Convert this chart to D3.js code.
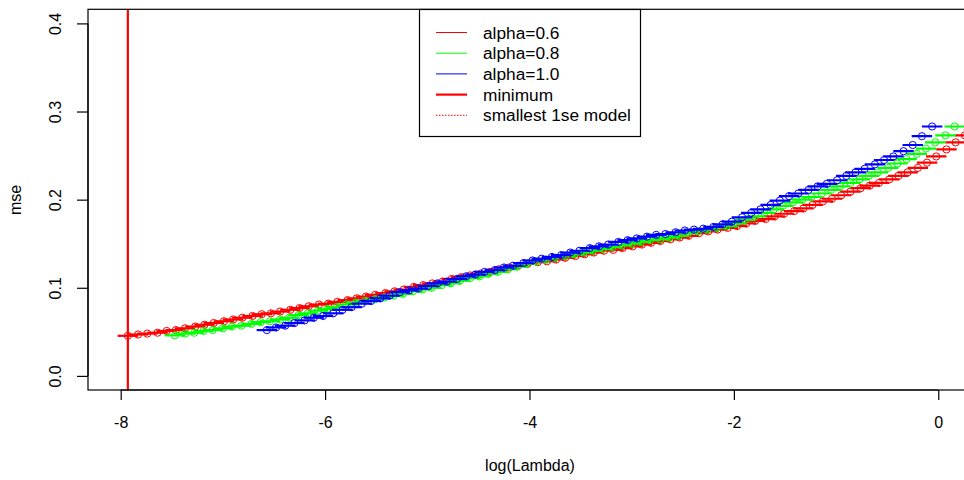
<!DOCTYPE html>
<html>
<head>
<meta charset="utf-8">
<script src="https://cdn.jsdelivr.net/npm/d3@7"></script>
<style>
  html, body { margin: 0; padding: 0; background: #ffffff; }
  svg { display: block; }
  text { font-family: "Liberation Sans", Arial, Helvetica, sans-serif; }
</style>
</head>
<body>
<svg id="chart" width="964" height="480"></svg>
<script>
// ---------------- data ----------------
const logLambdaA06 = [0.45,0.35,0.26,0.17,0.08,-0.02,-0.11,-0.20,-0.30,-0.39,-0.48,-0.58,-0.67,-0.76,-0.86,-0.95,-1.04,-1.13,-1.23,-1.32,-1.41,-1.51,-1.60,-1.69,-1.79,-1.88,-1.97,-2.06,-2.16,-2.25,-2.34,-2.44,-2.53,-2.62,-2.72,-2.81,-2.90,-2.99,-3.09,-3.18,-3.27,-3.37,-3.46,-3.55,-3.65,-3.74,-3.83,-3.92,-4.02,-4.11,-4.20,-4.30,-4.39,-4.48,-4.58,-4.67,-4.76,-4.85,-4.95,-5.04,-5.13,-5.23,-5.32,-5.41,-5.51,-5.60,-5.69,-5.78,-5.88,-5.97,-6.06,-6.16,-6.25,-6.34,-6.44,-6.53,-6.62,-6.71,-6.81,-6.90,-6.99,-7.09,-7.18,-7.27,-7.37,-7.46,-7.55,-7.64,-7.74,-7.83,-7.93];
const mseA06 = [0.283,0.279,0.273,0.265,0.257,0.249,0.242,0.236,0.231,0.227,0.223,0.219,0.216,0.213,0.209,0.205,0.201,0.198,0.194,0.190,0.187,0.184,0.181,0.178,0.176,0.173,0.170,0.168,0.166,0.164,0.162,0.159,0.157,0.155,0.153,0.151,0.149,0.147,0.145,0.143,0.142,0.140,0.138,0.136,0.134,0.132,0.130,0.129,0.127,0.125,0.123,0.121,0.118,0.116,0.114,0.112,0.110,0.107,0.105,0.103,0.101,0.098,0.096,0.094,0.092,0.090,0.088,0.086,0.084,0.082,0.081,0.079,0.077,0.075,0.073,0.071,0.070,0.068,0.066,0.064,0.062,0.060,0.058,0.056,0.054,0.052,0.051,0.049,0.048,0.047,0.0455];

const logLambdaA08 = [0.16,0.07,-0.03,-0.12,-0.21,-0.31,-0.40,-0.49,-0.59,-0.68,-0.77,-0.86,-0.96,-1.05,-1.14,-1.24,-1.33,-1.42,-1.52,-1.61,-1.70,-1.79,-1.89,-1.98,-2.07,-2.17,-2.26,-2.35,-2.45,-2.54,-2.63,-2.72,-2.82,-2.91,-3.00,-3.10,-3.19,-3.28,-3.38,-3.47,-3.56,-3.65,-3.75,-3.84,-3.93,-4.03,-4.12,-4.21,-4.31,-4.40,-4.49,-4.58,-4.68,-4.77,-4.86,-4.96,-5.05,-5.14,-5.24,-5.33,-5.42,-5.51,-5.61,-5.70,-5.79,-5.89,-5.98,-6.07,-6.17,-6.26,-6.35,-6.44,-6.54,-6.63,-6.72,-6.82,-6.91,-7.00,-7.10,-7.19,-7.28,-7.37,-7.47];
const mseA08 = [0.283,0.273,0.265,0.258,0.252,0.246,0.241,0.236,0.231,0.227,0.223,0.219,0.215,0.211,0.207,0.203,0.200,0.197,0.193,0.189,0.185,0.181,0.177,0.173,0.170,0.168,0.166,0.164,0.162,0.159,0.157,0.155,0.154,0.152,0.150,0.148,0.146,0.144,0.142,0.140,0.138,0.136,0.134,0.132,0.130,0.127,0.124,0.121,0.118,0.116,0.113,0.111,0.108,0.105,0.103,0.100,0.098,0.096,0.093,0.091,0.089,0.087,0.085,0.083,0.081,0.078,0.076,0.074,0.071,0.069,0.066,0.064,0.062,0.061,0.059,0.057,0.056,0.054,0.052,0.051,0.049,0.048,0.046];

const logLambdaA10 = [-0.06,-0.16,-0.25,-0.34,-0.44,-0.53,-0.62,-0.72,-0.81,-0.90,-0.99,-1.09,-1.18,-1.27,-1.37,-1.46,-1.55,-1.64,-1.74,-1.83,-1.92,-2.02,-2.11,-2.20,-2.30,-2.39,-2.48,-2.57,-2.67,-2.76,-2.85,-2.95,-3.04,-3.13,-3.23,-3.32,-3.41,-3.51,-3.60,-3.69,-3.78,-3.88,-3.97,-4.06,-4.16,-4.25,-4.34,-4.44,-4.53,-4.62,-4.71,-4.81,-4.90,-4.99,-5.09,-5.18,-5.27,-5.37,-5.46,-5.55,-5.64,-5.74,-5.83,-5.92,-6.02,-6.11,-6.20,-6.30,-6.39,-6.48,-6.57];
const mseA10 = [0.283,0.272,0.262,0.255,0.249,0.245,0.240,0.235,0.231,0.227,0.222,0.218,0.215,0.211,0.207,0.204,0.199,0.194,0.189,0.185,0.180,0.175,0.172,0.169,0.167,0.166,0.165,0.163,0.161,0.160,0.158,0.156,0.154,0.152,0.149,0.147,0.145,0.142,0.140,0.137,0.135,0.133,0.131,0.128,0.125,0.123,0.120,0.118,0.115,0.113,0.110,0.107,0.105,0.102,0.099,0.097,0.095,0.091,0.088,0.085,0.082,0.078,0.075,0.071,0.068,0.066,0.063,0.060,0.057,0.055,0.052];

const minLogLambda = -7.93;
const xTicks = [-8, -6, -4, -2, 0];
const xTickLabels = ["-8", "-6", "-4", "-2", "0"];
const yTicks = [0.0, 0.1, 0.2, 0.3, 0.4];
const yTickLabels = ["0.0", "0.1", "0.2", "0.3", "0.4"];
const seriesNames = ["alpha=0.6", "alpha=0.8", "alpha=1.0"];
const seriesColors = ["#ff0000", "#00ff00", "#0000ff"];
const legendLabels = ["alpha=0.6", "alpha=0.8", "alpha=1.0", "minimum", "smallest 1se model"];

// ---------------- layout ----------------
const svg = d3.select("#chart");
const L = 88, R = 972, T = 9.3, B = 390;
const x = d3.scaleLinear().domain([-8.32, 0.33]).range([L, R]);
const y = d3.scaleLinear().domain([-0.016, 0.416]).range([B, T]);
const barHalf = 0.1; // half width of error bar caps in log(Lambda) units

svg.append("defs").append("clipPath").attr("id", "plotclip")
  .append("rect").attr("x", L).attr("y", T).attr("width", R - L).attr("height", B - T);

const series = [
  { name: seriesNames[0], color: seriesColors[0], xs: logLambdaA06, ys: mseA06 },
  { name: seriesNames[1], color: seriesColors[1], xs: logLambdaA08, ys: mseA08 },
  { name: seriesNames[2], color: seriesColors[2], xs: logLambdaA10, ys: mseA10 }
];

const plot = svg.append("g").attr("clip-path", "url(#plotclip)");

series.forEach(s => {
  const pts = s.xs.map((v, i) => ({ lx: v, m: s.ys[i] }));
  const g = plot.append("g");
  g.selectAll("line.cap").data(pts).enter().append("line")
    .attr("class", "cap")
    .attr("x1", d => x(d.lx - barHalf)).attr("x2", d => x(d.lx + barHalf))
    .attr("y1", d => y(d.m)).attr("y2", d => y(d.m))
    .attr("stroke", s.color).attr("stroke-width", 2.2);
  g.selectAll("circle").data(pts).enter().append("circle")
    .attr("cx", d => x(d.lx)).attr("cy", d => y(d.m)).attr("r", 3.6)
    .attr("fill", "none").attr("stroke", s.color).attr("stroke-width", 1);
});

// minimum line
plot.append("line")
  .attr("x1", x(minLogLambda)).attr("x2", x(minLogLambda))
  .attr("y1", T).attr("y2", B)
  .attr("stroke", "#ff0000").attr("stroke-width", 2.2);

// box
svg.append("rect").attr("x", L).attr("y", T).attr("width", R - L).attr("height", B - T)
  .attr("fill", "none").attr("stroke", "#000").attr("stroke-width", 1.2);

// axes
const fontSize = 16;
const xAxis = svg.append("g").attr("transform", `translate(0,${B})`)
  .call(d3.axisBottom(x).tickValues(xTicks).tickFormat((d, i) => xTickLabels[i]).tickSize(10).tickPadding(17));
xAxis.select(".domain").attr("d", `M${x(xTicks[0])},0H${x(xTicks[xTicks.length - 1])}`).attr("stroke-width", 1.2);
xAxis.selectAll("line").attr("stroke-width", 1.2);
xAxis.selectAll("text").attr("font-size", fontSize).attr("fill", "#000")
  .style("font-family", '"Liberation Sans", Arial, sans-serif');

const yAxis = svg.append("g").attr("transform", `translate(${L},0)`)
  .call(d3.axisLeft(y).tickValues(yTicks).tickFormat((d, i) => yTickLabels[i]).tickSize(11));
yAxis.select(".domain").attr("d", `M0,${y(yTicks[0])}V${y(yTicks[yTicks.length - 1])}`).attr("stroke-width", 1.2);
yAxis.selectAll("line").attr("stroke-width", 1.2);
yAxis.selectAll("text")
  .attr("transform", "rotate(-90)")
  .attr("x", 0).attr("y", -33).attr("dy", "0.35em")
  .attr("text-anchor", "middle")
  .attr("font-size", fontSize).attr("fill", "#000")
  .style("font-family", '"Liberation Sans", Arial, sans-serif');

// axis titles
svg.append("text").attr("x", (L + R) / 2).attr("y", 471).attr("text-anchor", "middle")
  .attr("font-size", fontSize).text("log(Lambda)");
svg.append("text").attr("transform", `translate(21,200) rotate(-90)`).attr("text-anchor", "middle")
  .attr("font-size", fontSize).text("mse");

// legend
const lg = svg.append("g");
const lgX = 419.5, lgY = 9.5, lgW = 221, lgH = 127;
lg.append("rect").attr("x", lgX).attr("y", lgY).attr("width", lgW).attr("height", lgH)
  .attr("fill", "#fff").attr("stroke", "#000").attr("stroke-width", 1.2);
const rowY0 = 32.5, rowDy = 20.7;
const legendStyles = [
  { color: seriesColors[0], w: 1, dash: null },
  { color: seriesColors[1], w: 1, dash: null },
  { color: seriesColors[2], w: 1, dash: null },
  { color: "#ff0000", w: 2.2, dash: null },
  { color: "#ff0000", w: 1, dash: "1.5,1.5" }
];
legendLabels.forEach((lab, i) => {
  const yy = rowY0 + i * rowDy;
  const st = legendStyles[i];
  const ln = lg.append("line").attr("x1", 436).attr("x2", 467).attr("y1", yy).attr("y2", yy)
    .attr("stroke", st.color).attr("stroke-width", st.w);
  if (st.dash) ln.attr("stroke-dasharray", st.dash);
  lg.append("text").attr("x", 483).attr("y", yy).attr("dy", "0.35em")
    .attr("font-size", 17.3).attr("fill", "#000").text(lab);
});
</script>
</body>
</html>
